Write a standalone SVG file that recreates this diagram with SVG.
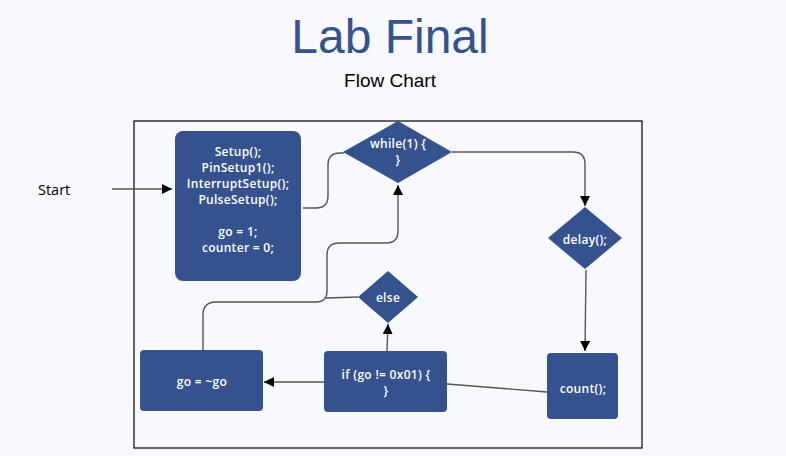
<svg xmlns="http://www.w3.org/2000/svg" width="786" height="456" viewBox="0 0 786 456">
<style>
.node{fill:#35528f;}
.nt{font-family:"Open Sans","Noto Sans",sans-serif;font-size:12px;letter-spacing:0.3px;font-weight:600;fill:#ffffff;text-anchor:middle;dominant-baseline:central;}
.conn{fill:none;stroke:#555555;stroke-width:1.4;}
</style>
<defs>
<marker id="arr" viewBox="0 0 10 10" refX="10" refY="5" markerWidth="10" markerHeight="10" markerUnits="userSpaceOnUse" orient="auto">
<path d="M0,0 L10,5 L0,10 Z" fill="#000"/>
</marker>
</defs>
<rect width="786" height="456" fill="#f8f9fc"/>
<text x="390" y="53" font-family="Liberation Sans,Arial,sans-serif" font-size="48" fill="#35528f" text-anchor="middle">Lab Final</text>
<text x="390" y="87" font-family="Liberation Sans,Arial,sans-serif" font-size="19" fill="#000" text-anchor="middle">Flow Chart</text>
<rect x="134" y="121" width="508" height="327" fill="#f8f9fc" stroke="#000" stroke-width="1.2"/>
<text x="38" y="195" font-family="Open Sans,Liberation Sans,sans-serif" font-size="14.5" fill="#000">Start</text>

<g id="connectors">
<path class="conn" d="M112,189 H172" marker-end="url(#arr)"/>
<path class="conn" d="M303,208 H316 Q328,208 328,196 V165 Q328,153 340,153 H344"/>
<path class="conn" d="M452,152 H573 Q585,152 585,164 V206" marker-end="url(#arr)"/>
<path class="conn" d="M586,270 L585,351" marker-end="url(#arr)"/>
<path class="conn" d="M547,392 L447,384"/>
<path class="conn" d="M324,382 H264" marker-end="url(#arr)"/>
<path class="conn" d="M387,351 L388,324" marker-end="url(#arr)"/>
<path class="conn" d="M203,350 V315 Q203,302 216,302 H316 Q327,302 327,291 V255 Q327,243 339,243 H386 Q398,243 398,231 V185" marker-end="url(#arr)"/>
<path class="conn" d="M358,297 L326,298"/>
</g>

<g id="start-setup">
<rect class="node" x="175" y="131" width="126" height="150" rx="8"/>
<text class="nt" x="238" y="151">Setup();</text>
<text class="nt" x="238" y="167">PinSetup1();</text>
<text class="nt" x="238" y="183">InterruptSetup();</text>
<text class="nt" x="238" y="199">PulseSetup();</text>
<text class="nt" x="238" y="231">go = 1;</text>
<text class="nt" x="238" y="247">counter = 0;</text>
</g>
<g id="while">
<polygon class="node" points="398,121 452,152 398,183 343,152"/>
<text class="nt" x="398" y="143">while(1) {</text>
<text class="nt" x="398" y="159">}</text>
</g>
<g id="delay">
<polygon class="node" points="585,207 622,238 585,269 548,238"/>
<text class="nt" x="585" y="239">delay();</text>
</g>
<g id="count">
<rect class="node" x="547" y="353" width="71" height="66" rx="4"/>
<text class="nt" x="583" y="388">count();</text>
</g>
<g id="if">
<rect class="node" x="324" y="351" width="123" height="61" rx="4"/>
<text class="nt" x="386" y="374">if (go != 0x01) {</text>
<text class="nt" x="386" y="390">}</text>
</g>
<g id="else">
<polygon class="node" points="388,271 418,297 388,323 358,297"/>
<text class="nt" x="388" y="297">else</text>
</g>
<g id="toggle">
<rect class="node" x="140" y="350" width="123" height="61" rx="4"/>
<text class="nt" x="202" y="381">go = ~go</text>
</g>
</svg>
